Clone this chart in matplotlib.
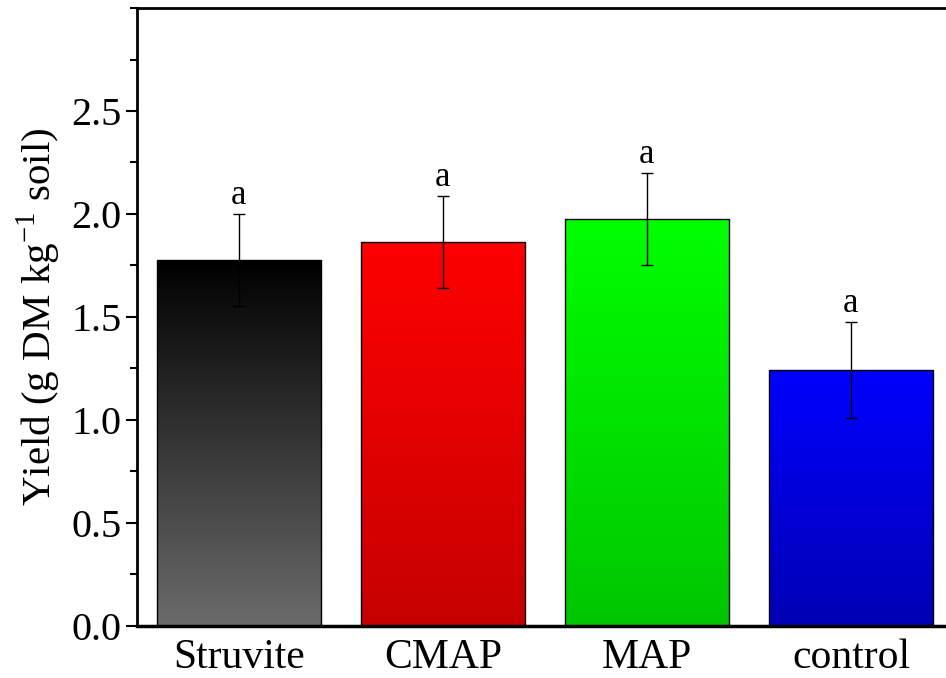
import numpy as np
import matplotlib
matplotlib.use("Agg")
from matplotlib import pyplot as plt
from matplotlib.colors import LinearSegmentedColormap
from matplotlib.ticker import MultipleLocator

categories = ['Struvite', 'CMAP', 'MAP', 'control']
yields = [1.777, 1.864, 1.976, 1.243]
errors = [0.223, 0.225, 0.224, 0.233]
letters = ['a', 'a', 'a', 'a']
top_colors = ['#000000', '#ff0000', '#00ff00', '#0000ff']
bottom_colors = ['#6b6b6b', '#c60000', '#00c600', '#0000b4']

plt.rcParams['font.family'] = ['Liberation Serif', 'DejaVu Serif']
plt.rcParams['mathtext.fontset'] = 'custom'
plt.rcParams['mathtext.rm'] = 'Liberation Serif'

fig = plt.figure(figsize=(9.46, 6.78), dpi=100)
ax = fig.add_axes([0.1448, 0.0767, 0.8626, 0.9115])

x = np.arange(len(categories))
width = 0.8
bars = ax.bar(x, yields, width=width, facecolor='none', edgecolor='black',
              linewidth=1.0, zorder=3)

# vertical gradient inside each bar
grad = np.linspace(0, 1, 256).reshape(-1, 1)
for i, b in enumerate(bars):
    cmap = LinearSegmentedColormap.from_list('g%d' % i, [bottom_colors[i], top_colors[i]])
    im = ax.imshow(grad, cmap=cmap, origin='lower', aspect='auto',
                   extent=[b.get_x(), b.get_x() + b.get_width(), 0, b.get_height()],
                   zorder=2, interpolation='bilinear')
    im.set_clip_path(b)

ax.errorbar(x, yields, yerr=errors, fmt='none', ecolor='black', elinewidth=1.0,
            capsize=4.5, capthick=1.0, zorder=4)

for i in range(len(categories)):
    ax.text(x[i], yields[i] + errors[i] + 0.01, letters[i], ha='center', va='bottom',
            fontsize=25, zorder=5)

ax.set_xlim(-0.5, 3.5)
ax.set_ylim(0, 3.0)
ax.set_xticks(x)
ax.set_xticklabels(categories, fontsize=30)
ax.yaxis.set_minor_locator(MultipleLocator(0.25))
ax.set_yticks([0, 0.5, 1.0, 1.5, 2.0, 2.5])
ax.set_yticklabels(['0.0', '0.5', '1.0', '1.5', '2.0', '2.5'], fontsize=29)
ax.tick_params(axis='y', which='major', direction='out', length=8, width=1.5, pad=3)
ax.tick_params(axis='y', which='minor', direction='out', length=5, width=1.5)
ax.tick_params(axis='x', which='both', length=0, pad=9)

for s in ax.spines.values():
    s.set_linewidth(2.0)
ax.spines['bottom'].set_linewidth(2.5)

ax.set_ylabel('Yield (g DM kg$^{\\mathregular{-1}}$ soil)', fontsize=29.5, labelpad=6)

fig.savefig('out.png', dpi=100)
